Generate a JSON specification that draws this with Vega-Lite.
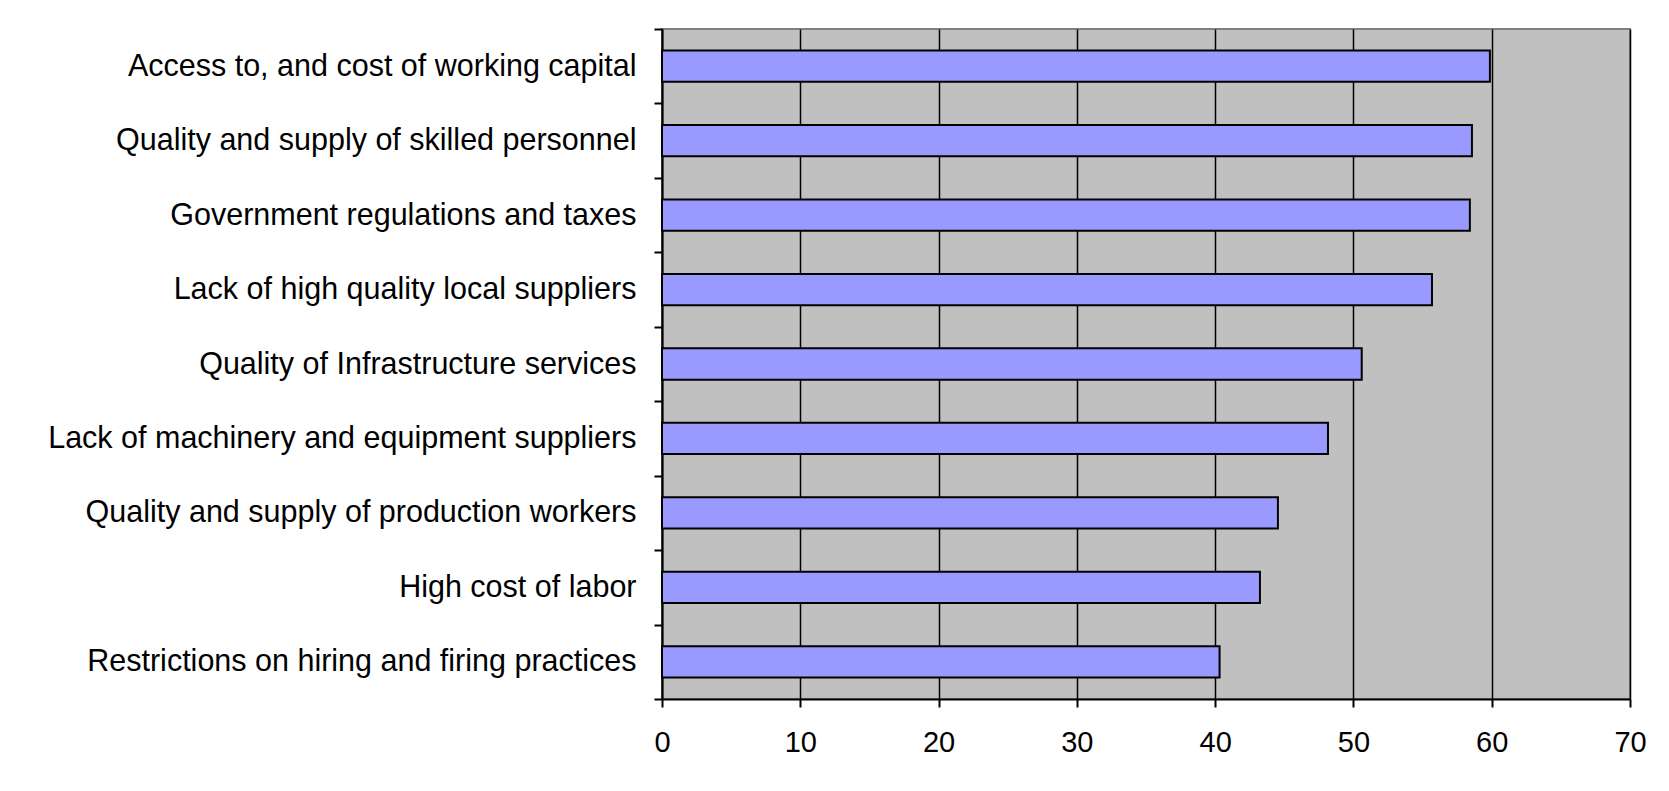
{
  "$schema": "https://vega.github.io/schema/vega-lite/v6.json",
  "width": 968,
  "height": 670,
  "autosize": {"type": "none"},
  "padding": {"left": 662, "top": 29, "right": 39, "bottom": 92},
  "background": "white",
  "data": {
    "values": [
      {"factor": "Access to, and cost of working capital", "value": 59.87},
      {"factor": "Quality and supply of skilled personnel", "value": 58.57},
      {"factor": "Government regulations and taxes", "value": 58.42},
      {"factor": "Lack of high quality local suppliers", "value": 55.68},
      {"factor": "Quality of Infrastructure services", "value": 50.6},
      {"factor": "Lack of machinery and equipment suppliers", "value": 48.16},
      {"factor": "Quality and supply of production workers", "value": 44.54},
      {"factor": "High cost of labor", "value": 43.24},
      {"factor": "Restrictions on hiring and firing practices", "value": 40.32}
    ]
  },
  "mark": {"type": "bar", "fill": "#9999FF", "stroke": "#000000", "strokeWidth": 2, "height": {"band": 0.42}},
  "encoding": {
    "y": {
      "field": "factor",
      "type": "nominal",
      "sort": null,
      "title": null,
      "scale": {"paddingInner": 0, "paddingOuter": 0},
      "axis": {
        "domainColor": "#000000",
        "domainWidth": 2,
        "tickColor": "#000000",
        "tickWidth": 2,
        "tickSize": 8,
        "tickBand": "extent",
        "grid": false,
        "labelFont": "Liberation Sans",
        "labelFontSize": 30.5,
        "labelColor": "#000000",
        "labelPadding": 18,
        "labelLimit": 700
      }
    },
    "x": {
      "field": "value",
      "type": "quantitative",
      "title": null,
      "scale": {"domain": [0, 70], "nice": false},
      "axis": {
        "values": [0, 10, 20, 30, 40, 50, 60, 70],
        "domainColor": "#000000",
        "domainWidth": 2,
        "tickColor": "#000000",
        "tickWidth": 2,
        "tickSize": 8,
        "grid": true,
        "gridColor": "#000000",
        "gridWidth": 1.5,
        "gridOpacity": 1,
        "labelFlush": false,
        "labelFont": "Liberation Sans",
        "labelFontSize": 29,
        "labelColor": "#000000",
        "labelPadding": 21
      }
    }
  },
  "config": {
    "view": {"fill": "#C0C0C0", "stroke": "#808080", "strokeWidth": 2}
  }
}
